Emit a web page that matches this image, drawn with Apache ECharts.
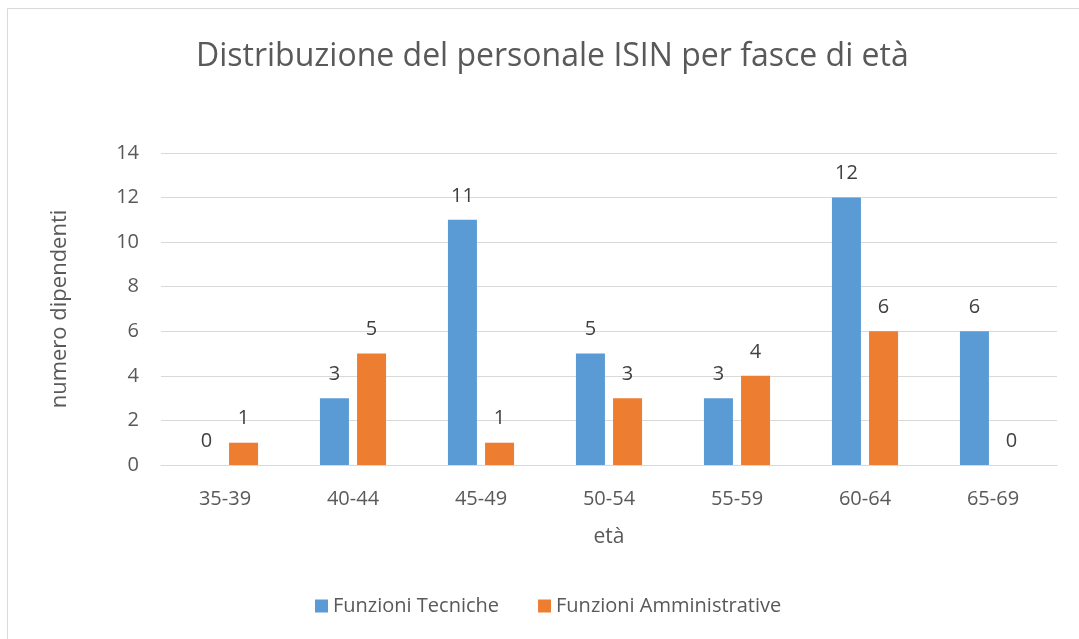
<!DOCTYPE html>
<html>
<head>
<meta charset="utf-8">
<script src="https://cdn.jsdelivr.net/npm/echarts@6/dist/echarts.min.js"></script>
<style>
  html, body { margin: 0; padding: 0; background: #fff; }
  #chart { width: 1079px; height: 639px; }
</style>
</head>
<body>
<div id="chart"></div>
<script>
// fasce di età
const categories = ['35-39', '40-44', '45-49', '50-54', '55-59', '60-64', '65-69'];
const tecniche = [0, 3, 11, 5, 3, 12, 6];
const amministrative = [1, 5, 1, 3, 4, 6, 0];
const yTicks = [0, 2, 4, 6, 8, 10, 12, 14];

const font = '"Open Sans", "Liberation Sans", sans-serif';
const labelStyle = {
    show: true,
    position: 'top',
    distance: 14,
    color: '#404040',
    fontSize: 20,
    fontFamily: font
};

const chart = echarts.init(document.getElementById('chart'));
chart.setOption({
    animation: false,
    title: {
        text: 'Distribuzione del personale ISIN per fasce di età',
        left: 191,
        top: 36,
        textStyle: { fontSize: 32, fontWeight: 'normal', color: '#595959', fontFamily: font }
    },
    graphic: [{
        type: 'rect',
        shape: { x: 7.5, y: 8.5, width: 1100, height: 700 },
        style: { fill: 'none', stroke: '#d9d9d9', lineWidth: 1 },
        silent: true
    }],
    legend: {
        bottom: 18,
        left: 310,
        itemWidth: 13,
        itemHeight: 13,
        itemGap: 39,
        icon: 'rect',
        textStyle: { fontSize: 20, color: '#595959', fontFamily: font }
    },
    grid: { left: 161, right: 22, top: 153, bottom: 174 },
    xAxis: {
        type: 'category',
        data: categories,
        name: 'età',
        nameLocation: 'middle',
        nameGap: 62,
        nameTextStyle: { fontSize: 21, color: '#595959', fontFamily: font },
        axisLine: { lineStyle: { color: '#d9d9d9' } },
        axisTick: { show: false },
        axisLabel: { fontSize: 20, color: '#595959', fontFamily: font, margin: 24 }
    },
    yAxis: {
        type: 'value',
        min: yTicks[0],
        max: yTicks[yTicks.length - 1],
        interval: 2,
        name: 'numero dipendenti',
        nameLocation: 'middle',
        nameGap: 90,
        nameTextStyle: { fontSize: 22, color: '#595959', fontFamily: font },
        axisLabel: { fontSize: 20, color: '#595959', fontFamily: font, margin: 22 },
        splitLine: { lineStyle: { color: '#d9d9d9' } }
    },
    series: [
        {
            name: 'Funzioni Tecniche',
            type: 'bar',
            data: tecniche,
            barWidth: 29,
            barGap: '28%',
            itemStyle: { color: '#5b9bd5' },
            label: labelStyle
        },
        {
            name: 'Funzioni Amministrative',
            type: 'bar',
            data: amministrative,
            barWidth: 29,
            itemStyle: { color: '#ed7d31' },
            label: labelStyle
        }
    ]
});
</script>
</body>
</html>
